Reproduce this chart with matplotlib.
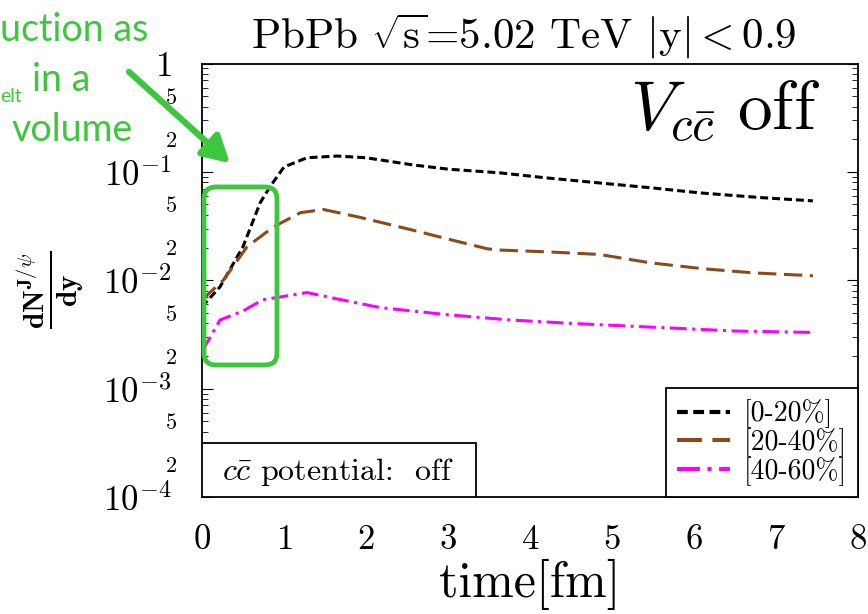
"""J/psi yield vs time (PbPb, cc potential off) の再現."""
import numpy as np
import matplotlib
matplotlib.use('Agg')
import matplotlib.pyplot as plt
from matplotlib.ticker import LogLocator, FuncFormatter, NullLocator
from matplotlib.patches import FancyBboxPatch, FancyArrowPatch, Rectangle
from matplotlib.transforms import IdentityTransform

plt.rcParams['font.family'] = 'cmr10'
plt.rcParams['mathtext.fontset'] = 'cm'
plt.rcParams['axes.unicode_minus'] = False

# データ
t_0_20 = [0, 0.22, 0.5, 0.71, 0.83, 1.0, 1.28, 1.65, 2.0, 2.57, 3.0, 3.63,
          4.2, 4.85, 5.5, 6.07, 6.8, 7.45]
y_0_20 = [5.7e-3, 8.7e-3, 0.0204, 0.052, 0.073, 0.111, 0.135, 0.14, 0.135,
          0.116, 0.106, 0.098, 0.088, 0.079, 0.071, 0.064, 0.058, 0.054]

t_20_40 = [0, 0.26, 0.55, 0.87, 1.2, 1.48, 1.93, 2.57, 3.0, 3.48, 3.63, 4.2,
           4.85, 5.46, 6.1, 6.72, 7.45]
y_20_40 = [6.6e-3, 0.010, 0.0204, 0.031, 0.042, 0.045, 0.038, 0.029, 0.024,
           0.0195, 0.019, 0.0183, 0.0173, 0.0145, 0.0128, 0.0117, 0.011]

t_40_60 = [0, 0.22, 0.5, 0.74, 1.0, 1.28, 1.7, 2.17, 3.0, 3.76, 4.5, 5.46,
           6.5, 7.45]
y_40_60 = [2.2e-3, 4.3e-3, 5.2e-3, 6.6e-3, 7.1e-3, 7.7e-3, 6.6e-3, 5.6e-3,
           4.8e-3, 4.3e-3, 4.0e-3, 3.7e-3, 3.4e-3, 3.3e-3]

labels = ['[0-20%]', '[20-40%]', '[40-60%]']
x_ticks = [0, 1, 2, 3, 4, 5, 6, 7, 8]

W, H = 868, 614
GREEN = '#3fc63f'

fig = plt.figure(figsize=(W / 100, H / 100), dpi=100)
ax = fig.add_axes([202 / W, 1 - 497 / H, 656 / W, 433.5 / H])

ax.plot(t_0_20, y_0_20, color='black', lw=2.2, dashes=(2.6, 1.3),
        label=labels[0])
ax.plot(t_20_40, y_20_40, color='#8b4a1c', lw=2.2, dashes=(6.0, 2.5),
        label=labels[1])
ax.plot(t_40_60, y_40_60, color='#ff00ff', lw=2.2, dashes=(5.5, 1.8, 1, 1.8),
        label=labels[2])

ax.set_yscale('log')
ax.set_xlim(0, 8)
ax.set_ylim(1e-4, 1)


def major_fmt(v, pos):
    e = int(round(np.log10(v)))
    return '$1$' if e == 0 else rf'$10^{{{e}}}$'


def minor_fmt(v, pos):
    m = int(round(v / 10 ** np.floor(np.log10(v) + 1e-9)))
    return f'${m}$' if m in (2, 5) else ''


ax.yaxis.set_major_locator(LogLocator(base=10, numticks=10))
ax.yaxis.set_minor_locator(LogLocator(base=10, subs=np.arange(2, 10), numticks=10))
ax.yaxis.set_major_formatter(FuncFormatter(major_fmt))
ax.yaxis.set_minor_formatter(FuncFormatter(minor_fmt))
ax.set_xticks(x_ticks)
ax.xaxis.set_major_formatter(FuncFormatter(lambda v, p: f'${int(v)}$'))
ax.xaxis.set_minor_locator(NullLocator())

ax.tick_params(axis='y', which='both', direction='in', right=True)
ax.tick_params(axis='y', which='major', length=8, labelsize=25, pad=22)
ax.tick_params(axis='y', which='minor', length=4, labelsize=16, pad=18)
ax.tick_params(axis='x', length=0, labelsize=25, pad=20)
for s in ax.spines.values():
    s.set_linewidth(1.3)

ax.set_xlabel('time[fm]', fontsize=36, labelpad=2)
fig.text(51 / W, 1 - 290 / H, r'$\frac{\mathbf{dN^{J/\psi}}}{\mathbf{dy}}$',
         rotation=90, ha='center', va='center', fontsize=30)
fig.text(524 / W, 1 - 36 / H,
         r'PbPb $\sqrt{\mathrm{s}}$=5.02 TeV $|\mathrm{y}|<0.9$',
         ha='center', va='center', fontsize=31)

ax.text(0.942, 0.888, r'$V_{c\bar{c}}\ \mathrm{off}$', transform=ax.transAxes,
        ha='right', va='center', fontsize=50)

# 左下のテキストボックス
ax.add_patch(Rectangle((0, 0), 0.4175, 0.1246, transform=ax.transAxes,
                       facecolor='white', edgecolor='black', lw=1.3, zorder=4))
ax.text(0.03, 0.058, r'$c\bar{c}$ potential:  off',
        transform=ax.transAxes, ha='left', va='center', fontsize=23, zorder=5)

leg = ax.legend(loc='lower right', borderaxespad=0, fancybox=False,
                edgecolor='black', framealpha=1, fontsize=20, handlelength=1.9,
                labelspacing=0.0, borderpad=0.4, handletextpad=0.5)
leg.get_frame().set_linewidth(1.3)
for h in leg.get_lines():
    h.set_linewidth(3)

# 緑の注釈
fig.text(148 / W, 1 - 30 / H, 'uction as', color=GREEN, fontsize=27,
         family='Lato', ha='right', va='center')
fig.text(0, 1 - 97 / H, 'elt', color=GREEN, fontsize=14, family='Lato',
         ha='left', va='center')
fig.text(32 / W, 1 - 80 / H, 'in a', color=GREEN, fontsize=27, family='Lato',
         ha='left', va='center')
fig.text(133 / W, 1 - 130 / H, 'volume', color=GREEN, fontsize=27,
         family='Lato', ha='right', va='center')

fig.patches.append(FancyBboxPatch((204, H - 365), 73, 178,
                                  boxstyle='round,pad=0,rounding_size=12',
                                  transform=IdentityTransform(), fill=False,
                                  edgecolor=GREEN, lw=3.5, zorder=10))
fig.patches.append(FancyArrowPatch((127, H - 70), (232, H - 165),
                                   transform=IdentityTransform(),
                                   arrowstyle='-|>,head_length=16,head_width=9',
                                   mutation_scale=1, color=GREEN, lw=4.5,
                                   zorder=10))

fig.savefig('out.png', dpi=100)
